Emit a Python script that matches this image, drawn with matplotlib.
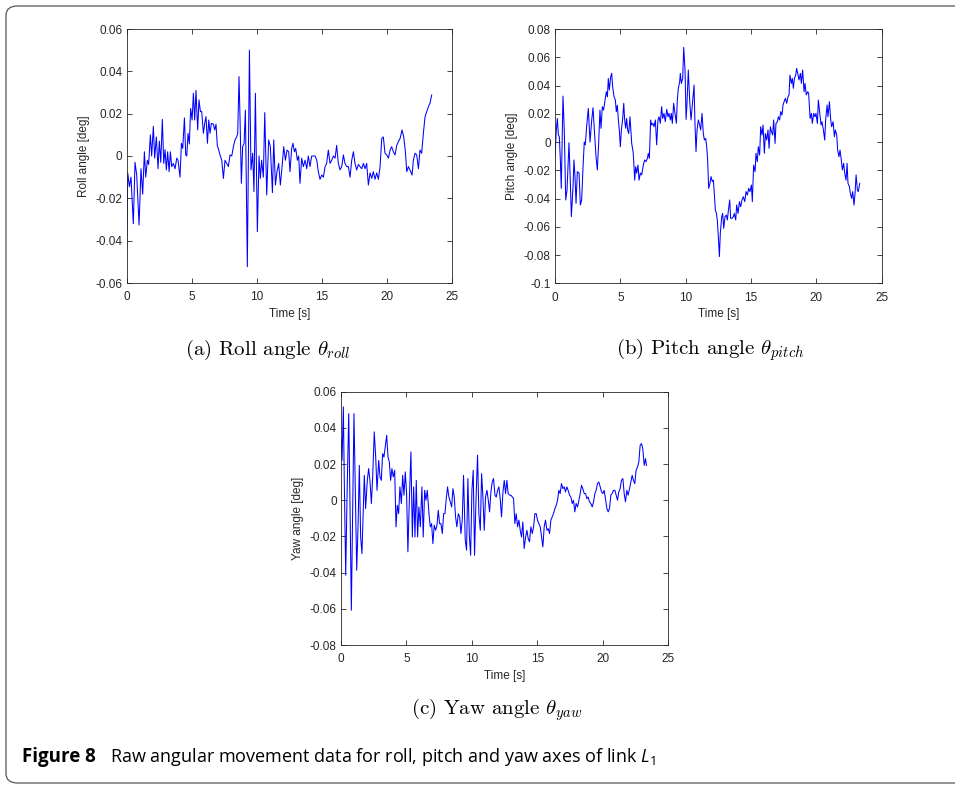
import matplotlib
matplotlib.use('Agg')
import matplotlib.pyplot as pyplot
from matplotlib.patches import FancyBboxPatch
from matplotlib.ticker import FuncFormatter, MultipleLocator

# roll angle
roll_t = [
	0.00, 0.08, 0.21, 0.33, 0.51, 0.64, 0.77, 0.95, 1.10, 1.23,
	1.36, 1.46, 1.59, 1.69, 1.82, 1.92, 2.05, 2.15, 2.28, 2.41,
	2.51, 2.62, 2.74, 2.85, 2.95, 3.05, 3.15, 3.26, 3.36, 3.46,
	3.59, 3.72, 3.85, 3.95, 4.10, 4.21, 4.31, 4.44, 4.54, 4.62,
	4.72, 4.82, 4.92, 5.03, 5.13, 5.23, 5.33, 5.46, 5.56, 5.67,
	5.77, 5.90, 6.00, 6.10, 6.21, 6.31, 6.41, 6.51, 6.67, 6.77,
	6.87, 6.97, 7.08, 7.18, 7.31, 7.44, 7.56, 7.69, 7.82, 7.95,
	8.08, 8.21, 8.33, 8.46, 8.54, 8.64, 8.72, 8.82, 8.92, 9.03,
	9.13, 9.28, 9.44, 9.56, 9.69, 9.79, 9.90, 10.05, 10.18, 10.28,
	10.38, 10.51, 10.62, 10.77, 10.92, 11.05, 11.21, 11.31, 11.44, 11.56,
	11.69, 11.82, 11.95, 12.08, 12.21, 12.33, 12.46, 12.56, 12.69, 12.79,
	12.90, 13.00, 13.13, 13.23, 13.33, 13.46, 13.59, 13.72, 13.85, 13.97,
	14.10, 14.23, 14.36, 14.49, 14.62, 14.74, 14.87, 15.00, 15.13, 15.26,
	15.38, 15.51, 15.64, 15.77, 15.90, 16.03, 16.15, 16.28, 16.41, 16.54,
	16.67, 16.79, 16.92, 17.05, 17.18, 17.31, 17.44, 17.56, 17.69, 17.82,
	17.95, 18.08, 18.21, 18.33, 18.46, 18.59, 18.72, 18.85, 18.97, 19.10,
	19.23, 19.36, 19.49, 19.62, 19.74, 19.87, 20.00, 20.13, 20.26, 20.38,
	20.51, 20.64, 20.77, 20.90, 21.03, 21.18, 21.31, 21.44, 21.54, 21.67,
	21.79, 21.95, 22.05, 22.18, 22.31, 22.44, 22.56, 22.69, 22.82, 22.95,
	23.08, 23.21, 23.33, 23.46]
roll_deg = [
	-0.044, -0.008, -0.0145, -0.010, -0.032, -0.003, -0.009, -0.0326, -0.006, -0.018,
	0.002, -0.010, -0.002, -0.004, 0.010, 0.0, 0.014, -0.001, 0.009, -0.006,
	0.007, -0.003, 0.0173, -0.0035, 0.003, -0.0066, 0.002, -0.0074, 0.002, -0.005,
	-0.0035, -0.006, -0.001, -0.002, -0.010, 0.006, 0.0036, 0.018, 0.0005, 0.0,
	0.0107, 0.0057, 0.0225, 0.017, 0.0296, 0.017, 0.031, 0.0123, 0.0265, 0.021,
	0.021, 0.0107, 0.0154, 0.0186, 0.006, 0.017, 0.0107, 0.0154, 0.015, 0.0123,
	0.015, 0.005, 0.0028, 0.0005, -0.002, -0.0106, -0.002, -0.0035, -0.005, 0.0005,
	0.0, 0.0044, 0.0076, 0.009, 0.0107, 0.0375, 0.017, -0.0129, 0.0044, 0.006,
	0.0217, -0.0523, 0.050, -0.0066, 0.0013, -0.0168, 0.0296, -0.0357, 0.0, -0.0106,
	-0.002, -0.010, 0.0205, -0.0184, 0.0076, 0.0044, -0.0173, 0.0076, -0.0137, -0.0074,
	-0.0035, -0.0137, -0.005, 0.0044, -0.002, 0.0028, 0.002, -0.0074, 0.0036, 0.006,
	0.002, 0.0036, -0.002, 0.0, -0.0129, -0.001, -0.005, -0.002, -0.006, 0.0,
	-0.005, 0.0, 0.0, 0.0, -0.002, -0.0074, -0.011, -0.009, -0.010, -0.005,
	-0.0035, 0.0028, -0.0035, -0.002, 0.0, -0.001, 0.005, -0.0035, -0.0066, -0.005,
	0.0005, -0.0035, -0.005, -0.005, -0.010, -0.002, 0.002, -0.0035, -0.0066, -0.004,
	-0.005, -0.006, -0.0035, -0.006, -0.0035, -0.0137, -0.008, -0.0106, -0.0074, -0.011,
	-0.008, -0.011, -0.005, 0.0083, 0.009, 0.0013, 0.0005, -0.001, 0.0028, 0.0044,
	0.002, 0.0005, 0.005, 0.0068, 0.0083, 0.0123, 0.009, 0.002, -0.0074, -0.005,
	-0.0066, -0.009, -0.002, 0.0013, 0.0005, -0.006, 0.0028, 0.0013, 0.0107, 0.0186,
	0.021, 0.0233, 0.025, 0.0288]

# pitch angle
pitch_t = [
	0.00, 0.10, 0.18, 0.26, 0.33, 0.41, 0.48, 0.61, 0.71, 0.82,
	0.92, 1.07, 1.17, 1.25, 1.38, 1.45, 1.53, 1.61, 1.71, 1.84,
	1.94, 2.04, 2.14, 2.24, 2.32, 2.42, 2.55, 2.68, 2.81, 2.91,
	3.01, 3.14, 3.24, 3.34, 3.44, 3.52, 3.62, 3.72, 3.83, 3.93,
	4.01, 4.08, 4.16, 4.26, 4.34, 4.41, 4.52, 4.62, 4.69, 4.77,
	4.85, 4.92, 5.00, 5.08, 5.18, 5.26, 5.33, 5.41, 5.48, 5.56,
	5.64, 5.74, 5.87, 5.99, 6.10, 6.17, 6.25, 6.35, 6.43, 6.53,
	6.63, 6.76, 6.86, 6.96, 7.07, 7.14, 7.22, 7.32, 7.40, 7.50,
	7.58, 7.68, 7.78, 7.88, 7.96, 8.06, 8.16, 8.24, 8.34, 8.44,
	8.55, 8.65, 8.72, 8.83, 8.90, 8.98, 9.08, 9.18, 9.29, 9.36,
	9.44, 9.54, 9.59, 9.67, 9.77, 9.85, 9.95, 10.03, 10.10, 10.20,
	10.31, 10.41, 10.51, 10.64, 10.71, 10.79, 10.87, 10.97, 11.07, 11.15,
	11.25, 11.35, 11.43, 11.53, 11.61, 11.68, 11.76, 11.86, 11.94, 12.04,
	12.12, 12.19, 12.27, 12.35, 12.42, 12.50, 12.58, 12.65, 12.76, 12.83,
	12.91, 13.01, 13.11, 13.19, 13.27, 13.37, 13.44, 13.55, 13.65, 13.72,
	13.83, 13.90, 14.01, 14.11, 14.21, 14.31, 14.41, 14.52, 14.62, 14.72,
	14.82, 14.92, 15.03, 15.10, 15.20, 15.31, 15.38, 15.48, 15.56, 15.66,
	15.74, 15.84, 15.92, 16.02, 16.10, 16.20, 16.30, 16.38, 16.48, 16.56,
	16.66, 16.73, 16.84, 16.91, 17.02, 17.09, 17.19, 17.27, 17.37, 17.45,
	17.53, 17.63, 17.73, 17.83, 17.91, 17.98, 18.09, 18.16, 18.24, 18.32,
	18.42, 18.49, 18.60, 18.67, 18.78, 18.85, 18.95, 19.06, 19.13, 19.23,
	19.34, 19.41, 19.52, 19.62, 19.69, 19.80, 19.90, 19.97, 20.08, 20.15,
	20.26, 20.36, 20.43, 20.54, 20.64, 20.71, 20.82, 20.89, 21.00, 21.10,
	21.17, 21.28, 21.38, 21.45, 21.56, 21.63, 21.73, 21.81, 21.91, 21.99,
	22.09, 22.17, 22.27, 22.35, 22.42, 22.53, 22.60, 22.70, 22.78, 22.88,
	22.96, 23.04, 23.14, 23.21, 23.32]
pitch_deg = [
	-0.0104, 0.0085, 0.0167, 0.005, 0.0038, -0.0127, -0.0328, 0.0325, 0.0085, -0.041,
	-0.034, -0.0005, -0.027, -0.0528, -0.0316, -0.0127, -0.0245, -0.0434, -0.021, -0.022,
	-0.0446, -0.041, -0.0186, 0.0, -0.002, 0.0108, 0.0238, 0.0, 0.0156, 0.0243,
	0.0085, -0.0104, -0.0198, -0.001, 0.0226, 0.0097, 0.025, 0.0226, 0.0297, 0.0356,
	0.032, 0.045, 0.0368, 0.0462, 0.0486, 0.039, 0.032, 0.0297, 0.0215, 0.026,
	0.0156, 0.0085, -0.0033, 0.0085, 0.0167, 0.0274, 0.0156, 0.0097, 0.0167, 0.0085,
	0.006, 0.0179, -0.001, -0.008, -0.027, -0.0175, -0.022, -0.0163, -0.027, -0.022,
	-0.0233, -0.0163, -0.0127, -0.0139, -0.0116, -0.008, -0.0116, 0.0156, 0.012, 0.0132,
	0.0108, 0.0156, -0.002, 0.0156, 0.0179, 0.0132, 0.025, 0.0167, 0.0203, 0.0144,
	0.0231, 0.0179, 0.0203, 0.0156, 0.0203, 0.0132, 0.0274, 0.0203, 0.0132, 0.0297,
	0.038, 0.0427, 0.0486, 0.0415, 0.045, 0.067, 0.051, 0.016, 0.0274, 0.051,
	0.0285, 0.0156, 0.0262, 0.0403, 0.0132, -0.0068, 0.0085, 0.0156, 0.012, 0.0085,
	0.0203, 0.006, 0.0014, 0.0026, -0.0033, -0.0127, -0.0328, -0.0292, -0.0245, -0.028,
	-0.027, -0.0363, -0.0481, -0.0505, -0.0552, -0.067, -0.0811, -0.0646, -0.0528, -0.0505,
	-0.0611, -0.0528, -0.0517, -0.0552, -0.0481, -0.041, -0.054, -0.054, -0.0528, -0.0505,
	-0.0552, -0.0446, -0.0505, -0.0422, -0.0458, -0.041, -0.0387, -0.0422, -0.0351, -0.0375,
	-0.0328, -0.0351, -0.0304, -0.0422, -0.0163, -0.021, -0.008, -0.0139, -0.0033, -0.0092,
	0.0108, 0.005, 0.012, -0.008, 0.006, 0.0014, 0.0085, -0.0045, 0.0108, 0.0073,
	0.005, 0.0156, -0.001, 0.0132, 0.0144, 0.0179, 0.0156, 0.0215, 0.0191, 0.0262,
	0.0285, 0.0309, 0.0274, 0.0321, 0.0333, 0.0474, 0.0415, 0.045, 0.038, 0.045,
	0.0474, 0.0521, 0.0474, 0.0439, 0.0486, 0.0415, 0.051, 0.0356, 0.0415, 0.0333,
	0.0356, 0.0344, 0.0167, 0.0203, 0.0132, 0.0203, 0.0179, 0.0203, 0.0132, 0.0297,
	0.0203, 0.012, 0.0144, 0.0085, 0.0014, 0.0156, 0.0262, 0.0179, 0.0285, 0.0156,
	0.0108, 0.0144, 0.0038, 0.0085, 0.005, -0.0057, -0.0104, -0.0057, -0.0127, -0.0198,
	-0.0151, -0.022, -0.027, -0.0151, -0.0292, -0.0316, -0.0363, -0.0399, -0.0351, -0.0446,
	-0.0363, -0.0233, -0.034, -0.0351, -0.0292]

# yaw angle
yaw_t = [
	0.00, 0.08, 0.18, 0.25, 0.36, 0.46, 0.59, 0.69, 0.79, 0.89,
	0.99, 1.09, 1.20, 1.30, 1.40, 1.50, 1.60, 1.70, 1.78, 1.88,
	2.01, 2.11, 2.21, 2.32, 2.42, 2.54, 2.65, 2.75, 2.88, 2.98,
	3.08, 3.18, 3.28, 3.38, 3.49, 3.59, 3.69, 3.79, 3.89, 3.99,
	4.10, 4.20, 4.30, 4.40, 4.50, 4.61, 4.71, 4.81, 4.91, 5.01,
	5.11, 5.22, 5.34, 5.45, 5.55, 5.65, 5.75, 5.85, 5.95, 6.06,
	6.18, 6.28, 6.39, 6.49, 6.59, 6.72, 6.82, 6.92, 7.02, 7.12,
	7.23, 7.33, 7.43, 7.53, 7.63, 7.74, 7.84, 7.94, 8.04, 8.14,
	8.24, 8.35, 8.45, 8.55, 8.65, 8.75, 8.85, 8.96, 9.06, 9.16,
	9.26, 9.36, 9.49, 9.59, 9.69, 9.80, 9.90, 10.00, 10.10, 10.20,
	10.31, 10.43, 10.53, 10.64, 10.74, 10.84, 10.94, 11.04, 11.15, 11.25,
	11.35, 11.45, 11.55, 11.65, 11.76, 11.86, 11.96, 12.06, 12.16, 12.26,
	12.37, 12.47, 12.57, 12.67, 12.77, 12.88, 12.98, 13.08, 13.18, 13.28,
	13.38, 13.49, 13.59, 13.69, 13.79, 13.89, 13.99, 14.10, 14.20, 14.30,
	14.40, 14.50, 14.61, 14.71, 14.81, 14.91, 15.01, 15.11, 15.22, 15.32,
	15.42, 15.52, 15.62, 15.73, 15.83, 15.93, 16.03, 16.13, 16.23, 16.34,
	16.44, 16.54, 16.64, 16.74, 16.84, 16.95, 17.05, 17.15, 17.25, 17.35,
	17.46, 17.56, 17.66, 17.76, 17.86, 17.96, 18.07, 18.17, 18.27, 18.37,
	18.47, 18.58, 18.68, 18.78, 18.88, 18.98, 19.08, 19.19, 19.29, 19.39,
	19.49, 19.59, 19.69, 19.80, 19.90, 20.00, 20.10, 20.20, 20.31, 20.41,
	20.51, 20.61, 20.71, 20.81, 20.92, 21.02, 21.12, 21.22, 21.32, 21.42,
	21.53, 21.63, 21.73, 21.83, 21.93, 22.04, 22.14, 22.24, 22.34, 22.44,
	22.54, 22.65, 22.75, 22.85, 22.95, 23.05, 23.16, 23.26, 23.33]
yaw_deg = [
	0.034, 0.022, 0.0516, 0.011, -0.0414, 0.0018, 0.0479, -0.0037, -0.0608, -0.0074,
	0.0479, 0.0055, -0.0387, -0.0147, 0.0193, -0.0203, -0.0295, -0.0055, 0.0138, -0.0046,
	0.011, 0.0175, 0.011, -0.0018, 0.0129, 0.0378, 0.0239, 0.0055, 0.022, 0.0129,
	0.011, 0.0258, 0.0239, 0.0295, 0.0359, 0.0239, 0.0212, 0.011, 0.0175, 0.0129,
	0.0166, -0.0147, -0.0028, -0.0074, 0.0074, -0.0018, 0.0138, 0.0028, 0.0157, 0.0037,
	-0.0285, 0.0, 0.0267, -0.0203, 0.0074, -0.0203, 0.011, -0.0203, -0.0037, -0.0147,
	0.0074, -0.0203, 0.0055, 0.0, 0.0055, -0.0074, -0.0147, -0.0129, -0.024, -0.0138,
	-0.0166, -0.0138, -0.0055, -0.0129, -0.0129, -0.0184, -0.0074, -0.0074, 0.0009, 0.0074,
	0.0018, -0.0009, -0.0037, 0.0064, 0.0018, -0.0092, -0.0147, -0.0074, -0.0092, -0.0184,
	-0.011, 0.0138, -0.0221, -0.0276, 0.012, -0.0193, -0.0304, 0.0055, 0.0166, -0.0304,
	0.0, 0.0249, -0.0074, -0.0166, 0.0147, 0.0018, -0.0166, 0.0018, 0.0055, 0.0,
	-0.0064, 0.0046, 0.0101, 0.012, 0.0028, 0.0018, 0.0055, 0.0074, 0.0009, -0.0092,
	0.0046, 0.011, 0.0037, 0.011, 0.0037, 0.0028, 0.0028, 0.0018, 0.0009, -0.0129,
	-0.0074, -0.0147, -0.011, -0.0166, -0.0203, -0.012, -0.0267, -0.0203, -0.0166, -0.0212,
	-0.023, -0.0147, -0.0184, -0.0147, -0.0074, -0.0074, -0.011, -0.0129, -0.0147, -0.0203,
	-0.0258, -0.0147, -0.011, -0.0166, -0.0157, -0.0184, -0.011, -0.0092, -0.0074, -0.0046,
	-0.0028, 0.0, 0.0055, 0.0037, 0.0092, 0.0064, 0.0074, 0.0046, 0.0074, 0.0055,
	0.0028, 0.0018, -0.0018, 0.0, -0.0064, -0.0018, -0.0037, 0.0, 0.0037, 0.0083,
	0.0064, 0.0037, 0.0037, 0.0009, 0.0018, -0.0009, -0.0018, -0.0037, -0.0009, 0.0037,
	0.0055, 0.0092, 0.0101, 0.0074, 0.0046, 0.0037, 0.0055, 0.0009, -0.0046, -0.0064,
	-0.0046, 0.0028, 0.0037, 0.0055, 0.0055, 0.0028, 0.0, 0.0046, 0.0064, 0.011,
	0.012, 0.0037, -0.0009, 0.0055, 0.0028, 0.0064, 0.0101, 0.0138, 0.011, 0.0092,
	0.0166, 0.0184, 0.0212, 0.0304, 0.0313, 0.0285, 0.0193, 0.023, 0.0193]

ylabels = ['Roll angle [deg]', 'Pitch angle [deg]', 'Yaw angle [deg]']
captions = [r'(a) Roll angle $\theta_{roll}$', r'(b) Pitch angle $\theta_{pitch}$', r'(c) Yaw angle $\theta_{yaw}$']
ylims = [(-0.06, 0.06), (-0.1, 0.08), (-0.08, 0.06)]

W, H = 955, 786
AXCOL = '#262626'


def tickFmt(v, pos):
	# round away float noise, and +0.0 turns -0.0 into 0
	return '%g' % (round(v, 6) + 0.0)


def setupAxes(ax, ylim, ylabel):
	ax.set_xlim(0, 25)
	ax.set_ylim(*ylim)
	ax.xaxis.set_major_locator(MultipleLocator(5))
	ax.yaxis.set_major_locator(MultipleLocator(0.02))
	ax.xaxis.set_major_formatter(FuncFormatter(tickFmt))
	ax.yaxis.set_major_formatter(FuncFormatter(tickFmt))
	ax.tick_params(direction='in', top=True, right=True, length=3.5, width=0.6,
		labelsize=8.5, colors=AXCOL, pad=3)
	ax.tick_params(axis='x', pad=6)
	for s in ax.spines.values():
		s.set_linewidth(0.6)
		s.set_color(AXCOL)
	ax.set_xlabel('Time [s]', fontsize=8.5, color=AXCOL, labelpad=3)
	ax.set_ylabel(ylabel, fontsize=8.5, color=AXCOL, labelpad=4)


pyplot.rcParams['font.family'] = ['Liberation Sans', 'DejaVu Sans']
pyplot.rcParams['axes.unicode_minus'] = False
pyplot.rcParams['mathtext.fontset'] = 'custom'
pyplot.rcParams['mathtext.rm'] = 'Open Sans'
pyplot.rcParams['mathtext.it'] = 'Open Sans:italic'

fig = pyplot.figure(figsize=(W / 100, H / 100), dpi=100)

# axes boxes in pixels: left, top, right, bottom
boxes = [(126.7, 29, 451.7, 283), (555, 29, 881.7, 283.3), (341, 391.7, 668.3, 645)]
series = [(roll_t, roll_deg), (pitch_t, pitch_deg), (yaw_t, yaw_deg)]
cap_pos = [(268, 350), (710, 350), (497, 710)]

for i in range(3):
	l, t, r, b = boxes[i]
	ax = fig.add_axes([l / W, 1 - b / H, (r - l) / W, (b - t) / H])
	ax.plot(series[i][0], series[i][1], color=(0, 0, 1), linewidth=0.75)
	setupAxes(ax, ylims[i], ylabels[i])
	fig.text(cap_pos[i][0] / W, 1 - cap_pos[i][1] / H, captions[i], family='cmr10',
		math_fontfamily='cm', fontsize=15, ha='center', va='center')

# figure caption
fig.text(22 / W, 1 - 757 / H, 'Figure 8', family='Open Sans', weight='bold',
	fontsize=13.5, ha='left', va='center')
fig.text(110 / W, 1 - 757 / H, r'Raw angular movement data for roll, pitch and yaw axes of link $L_1$',
	family='Open Sans', fontsize=13, ha='left', va='center')

# rounded frame around the whole figure, open past the right edge
frame = FancyBboxPatch((6 / W, 1 - 783 / H), 1.1, (783 - 6) / H,
	boxstyle='round,pad=0,rounding_size=0.012', transform=fig.transFigure,
	facecolor='none', edgecolor='#555555', linewidth=0.9, clip_on=False)
fig.patches.append(frame)

pyplot.savefig('out.png', dpi=100)
